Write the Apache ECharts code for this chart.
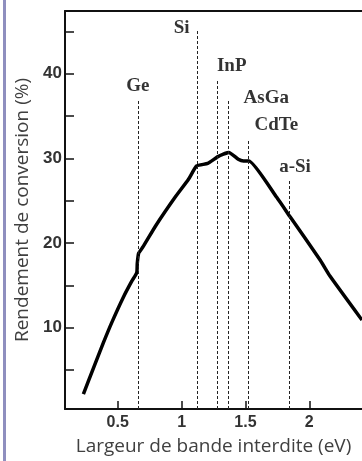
<!doctype html>
<html lang="fr">
<head>
    <meta charset="UTF-8">
    <title>Rendement de conversion</title>
    <script src="https://cdn.jsdelivr.net/npm/echarts@6/dist/echarts.min.js"></script>
    <style>
        html, body { margin: 0; padding: 0; background: #fff; }
    </style>
</head>
<body>
    <div id="main" style="width: 362px;height:461px;"></div>
    <script>
        // courbe rendement / gap
        var gapEnergy = [0.231, 0.309, 0.387, 0.453, 0.544, 0.610, 0.649, 0.653, 0.664, 0.700, 0.800, 0.949, 1.053, 1.118, 1.205, 1.285, 1.370, 1.444, 1.485, 1.528, 1.745, 1.850, 2.085, 2.162, 2.413];
        var efficiency = [2.15, 5.2, 8.2, 10.6, 13.6, 15.5, 16.5, 17.6, 18.8, 19.6, 22.1, 25.4, 27.5, 29.1, 29.4, 30.2, 30.7, 29.9, 29.7, 29.7, 25.4, 23.1, 18.0, 16.1, 10.9];

        // materiaux
        var materials = ['Ge', 'Si', 'InP', 'AsGa', 'CdTe', 'a-Si'];
        var materialGap = [0.657, 1.126, 1.283, 1.366, 1.523, 1.841];
        var materialLineTop = [36.8, 45.2, 39.2, 36.8, 32.2, 27.5];

        var yTicks = [5, 10, 15, 20, 25, 30, 35, 40, 45];
        var yLabels = [10, 20, 30, 40];
        var xTicks = [0.5, 1, 1.5, 2];

        var labelOffset = {
            'Ge': [0, 0],
            'Si': [-16, 13],
            'InP': [14, 0],
            'AsGa': [38, 12],
            'CdTe': [28, 0],
            'a-Si': [6, 2]
        };

        var curve = gapEnergy.map(function (x, i) { return [x, efficiency[i]]; });

        var tops = materials.map(function (m, i) {
            return {
                value: [materialGap[i], materialLineTop[i]],
                label: { offset: labelOffset[m] }
            };
        });

        var dashes = materials.map(function (m, i) {
            return [{ coord: [materialGap[i], 0.4] }, { coord: [materialGap[i], materialLineTop[i]] }];
        });

        var myChart = echarts.init(document.getElementById('main'));
        myChart.setOption({
            animation: false,
            backgroundColor: '#fff',
            graphic: [{
                type: 'rect',
                shape: { x: 3, y: 0, width: 3, height: 461 },
                style: { fill: '#8f8fbf' }
            }],
            grid: { left: 65, right: 0, top: 11, bottom: 46 },
            xAxis: [{
                type: 'value',
                min: 0.087,
                max: 2.413,
                name: 'Largeur de bande interdite (eV)',
                nameLocation: 'middle',
                nameGap: 28,
                nameTextStyle: { fontFamily: 'Open Sans', fontSize: 19, color: '#404040' },
                axisLine: { lineStyle: { color: '#111', width: 2 } },
                axisTick: { inside: true, length: 8, customValues: xTicks, lineStyle: { color: '#111', width: 1.5 } },
                axisLabel: { customValues: xTicks, margin: 6, fontFamily: 'Liberation Sans', fontWeight: 'bold', fontSize: 16, color: '#333' },
                splitLine: { show: false }
            }, {
                type: 'value',
                position: 'top',
                min: 0.087,
                max: 2.413,
                axisLine: { show: true, lineStyle: { color: '#111', width: 2 } },
                axisTick: { show: false },
                axisLabel: { show: false },
                splitLine: { show: false }
            }],
            yAxis: {
                type: 'value',
                min: 0.4,
                max: 47.4,
                name: 'Rendement de conversion (%)',
                nameLocation: 'middle',
                nameGap: 33,
                nameTextStyle: { fontFamily: 'Open Sans', fontSize: 19, color: '#404040' },
                axisLine: { show: true, lineStyle: { color: '#111', width: 2 } },
                axisTick: { inside: true, length: 9, customValues: yTicks, lineStyle: { color: '#111', width: 1.5 } },
                axisLabel: { customValues: yLabels, margin: 3, fontFamily: 'Liberation Sans', fontWeight: 'bold', fontSize: 17, color: '#333' },
                splitLine: { show: false }
            },
            series: [{
                name: 'rendement',
                type: 'line',
                data: curve,
                smooth: 0.15,
                showSymbol: false,
                lineStyle: { color: '#000', width: 3.5 },
                z: 3
            }, {
                name: 'materiaux',
                type: 'scatter',
                symbolSize: 0,
                data: tops,
                label: {
                    show: true,
                    position: 'top',
                    formatter: function (p) { return materials[p.dataIndex]; },
                    fontFamily: 'Liberation Serif',
                    fontWeight: 'bold',
                    fontSize: 19,
                    color: '#000'
                },
                markLine: {
                    silent: true,
                    symbol: 'none',
                    label: { show: false },
                    lineStyle: { color: '#222', width: 1, type: [3, 2] },
                    data: dashes
                }
            }]
        });
    </script>
</body>
</html>
